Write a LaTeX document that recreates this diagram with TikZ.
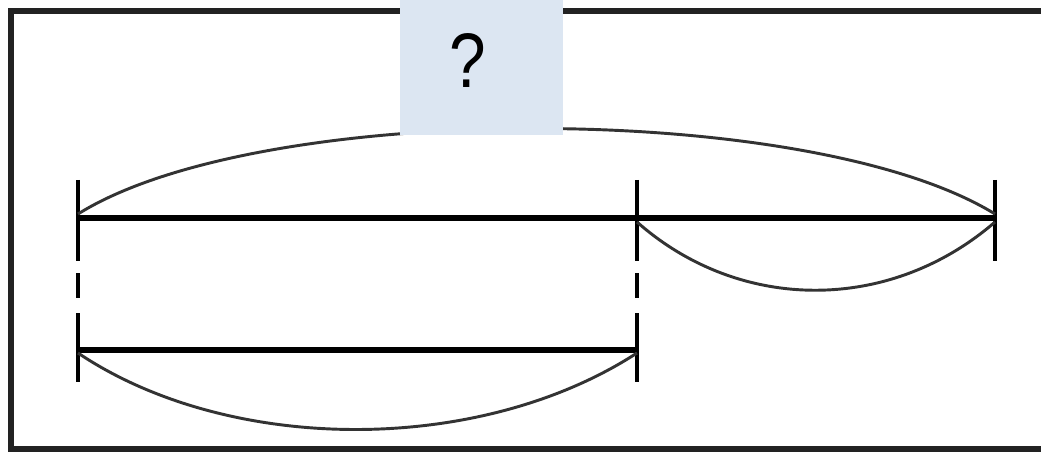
\documentclass[tikz,border=0pt]{standalone}
\usepackage{fontspec}
\setmainfont{Liberation Sans}
\definecolor{boxblue}{HTML}{DCE6F2}
\definecolor{frame}{HTML}{222222}
\begin{document}
\begin{tikzpicture}[x=0.75pt,y=-0.75pt,
  bar/.style={line width=4.5pt,black},
  tick/.style={line width=3.5pt,black},
  brace/.style={line width=2.2pt,black!80},
  gap/.style={line width=3.5pt,black}]
\useasboundingbox (0,0) rectangle (1041,452);
% frame
\draw[line width=3.8pt,frame] (1060,11) -- (11,11) -- (11,449) -- (1060,449);
% coordinates
\coordinate (A) at (78,218);
\coordinate (B) at (637,218);
\coordinate (C) at (995,218);
\coordinate (D) at (78,350);
\coordinate (E) at (637,350);
% bars
\draw[bar] (A) -- (C);
\draw[bar] (D) -- (E);
% ticks
\foreach \p in {A,B,C} \draw[tick] ([shift={(0,-38)}]\p) -- ([shift={(0,43)}]\p);
\foreach \p in {D,E} \draw[tick] ([shift={(0,-37)}]\p) -- ([shift={(0,32)}]\p);
% dashed links
\draw[gap] (78,273) -- (78,298);
\draw[gap] (637,273) -- (637,298);
% braces
\draw[brace] ([shift={(0,-4)}]A) .. controls (260,100) and (810,100) .. ([shift={(0,-4)}]C);
\draw[brace] ([shift={(0,4)}]B) .. controls (740,313) and (890,313) .. ([shift={(0,4)}]C);
\draw[brace] ([shift={(0,3)}]D) .. controls (230,455) and (480,455) .. ([shift={(0,3)}]E);
% question box
\node[fill=boxblue,minimum width=163*0.75pt,minimum height=145*0.75pt,inner sep=0pt,anchor=south west] (q) at (400,135) {};
\node[xscale=0.85] at (468,61) {\fontsize{58pt}{64pt}\selectfont ?};
\end{tikzpicture}
\end{document}
